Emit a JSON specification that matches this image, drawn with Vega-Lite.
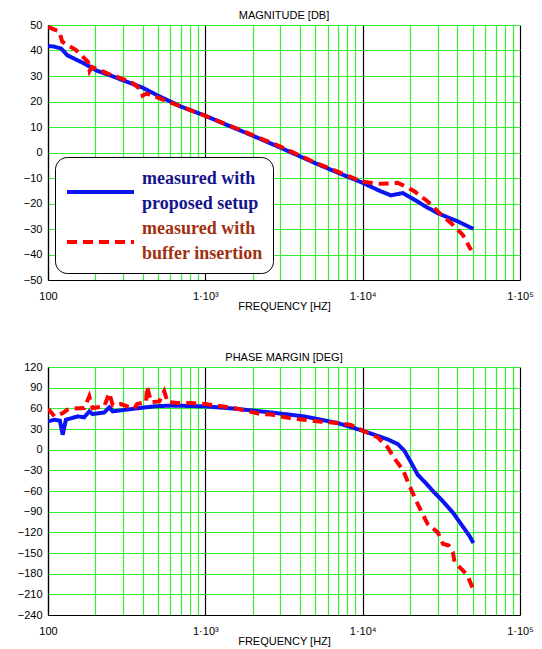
{
  "$schema": "https://vega.github.io/schema/vega-lite/v6.json",
  "padding": {"left": 17, "top": 10, "right": 5, "bottom": 5},
  "background": "white",
  "datasets": {
    "mag": [
      {"f": 100, "v": 41.8, "s": "proposed"},
      {"f": 110, "v": 41.5, "s": "proposed"},
      {"f": 121, "v": 40.8, "s": "proposed"},
      {"f": 133, "v": 38.1, "s": "proposed"},
      {"f": 150, "v": 36.5, "s": "proposed"},
      {"f": 170, "v": 34.9, "s": "proposed"},
      {"f": 202, "v": 32.2, "s": "proposed"},
      {"f": 250, "v": 30.2, "s": "proposed"},
      {"f": 300, "v": 28.3, "s": "proposed"},
      {"f": 400, "v": 25.4, "s": "proposed"},
      {"f": 500, "v": 22.3, "s": "proposed"},
      {"f": 700, "v": 18.0, "s": "proposed"},
      {"f": 1000, "v": 14.4, "s": "proposed"},
      {"f": 1500, "v": 9.8, "s": "proposed"},
      {"f": 2000, "v": 6.6, "s": "proposed"},
      {"f": 3000, "v": 1.9, "s": "proposed"},
      {"f": 5000, "v": -4.2, "s": "proposed"},
      {"f": 7000, "v": -8.0, "s": "proposed"},
      {"f": 10000, "v": -11.9, "s": "proposed"},
      {"f": 13000, "v": -15.2, "s": "proposed"},
      {"f": 15100, "v": -16.8, "s": "proposed"},
      {"f": 18000, "v": -15.9, "s": "proposed"},
      {"f": 21300, "v": -18.5, "s": "proposed"},
      {"f": 25000, "v": -21.1, "s": "proposed"},
      {"f": 30000, "v": -23.8, "s": "proposed"},
      {"f": 35000, "v": -25.5, "s": "proposed"},
      {"f": 40200, "v": -27.0, "s": "proposed"},
      {"f": 50600, "v": -30.0, "s": "proposed"},
      {"f": 100, "v": 49.3, "s": "buffer"},
      {"f": 112, "v": 48.0, "s": "buffer"},
      {"f": 118, "v": 47.5, "s": "buffer"},
      {"f": 123, "v": 43.5, "s": "buffer"},
      {"f": 130, "v": 42.5, "s": "buffer"},
      {"f": 150, "v": 40.3, "s": "buffer"},
      {"f": 170, "v": 37.0, "s": "buffer"},
      {"f": 180, "v": 35.5, "s": "buffer"},
      {"f": 184, "v": 32.0, "s": "buffer"},
      {"f": 190, "v": 33.5, "s": "buffer"},
      {"f": 200, "v": 33.0, "s": "buffer"},
      {"f": 250, "v": 30.5, "s": "buffer"},
      {"f": 300, "v": 28.8, "s": "buffer"},
      {"f": 350, "v": 27.0, "s": "buffer"},
      {"f": 390, "v": 24.5, "s": "buffer"},
      {"f": 400, "v": 22.3, "s": "buffer"},
      {"f": 420, "v": 23.0, "s": "buffer"},
      {"f": 452, "v": 22.7, "s": "buffer"},
      {"f": 500, "v": 21.5, "s": "buffer"},
      {"f": 700, "v": 18.0, "s": "buffer"},
      {"f": 1000, "v": 14.4, "s": "buffer"},
      {"f": 1528, "v": 9.8, "s": "buffer"},
      {"f": 2000, "v": 6.8, "s": "buffer"},
      {"f": 3000, "v": 2.3, "s": "buffer"},
      {"f": 4933, "v": -3.8, "s": "buffer"},
      {"f": 7000, "v": -7.6, "s": "buffer"},
      {"f": 10000, "v": -11.5, "s": "buffer"},
      {"f": 13100, "v": -12.3, "s": "buffer"},
      {"f": 16700, "v": -11.9, "s": "buffer"},
      {"f": 19000, "v": -13.5, "s": "buffer"},
      {"f": 21300, "v": -15.2, "s": "buffer"},
      {"f": 25900, "v": -19.2, "s": "buffer"},
      {"f": 31600, "v": -24.4, "s": "buffer"},
      {"f": 36500, "v": -27.7, "s": "buffer"},
      {"f": 43300, "v": -32.3, "s": "buffer"},
      {"f": 48900, "v": -38.3, "s": "buffer"}
    ],
    "phase": [
      {"f": 100, "v": 41, "s": "proposed"},
      {"f": 110, "v": 43.5, "s": "proposed"},
      {"f": 119, "v": 42, "s": "proposed"},
      {"f": 124, "v": 21.7, "s": "proposed"},
      {"f": 130, "v": 43.5, "s": "proposed"},
      {"f": 155, "v": 48.3, "s": "proposed"},
      {"f": 170, "v": 47, "s": "proposed"},
      {"f": 183, "v": 55.6, "s": "proposed"},
      {"f": 192, "v": 51.7, "s": "proposed"},
      {"f": 228, "v": 54, "s": "proposed"},
      {"f": 245, "v": 61.4, "s": "proposed"},
      {"f": 258, "v": 55.6, "s": "proposed"},
      {"f": 353, "v": 59.5, "s": "proposed"},
      {"f": 474, "v": 62.9, "s": "proposed"},
      {"f": 606, "v": 64, "s": "proposed"},
      {"f": 1000, "v": 62.9, "s": "proposed"},
      {"f": 1528, "v": 59.5, "s": "proposed"},
      {"f": 2618, "v": 54, "s": "proposed"},
      {"f": 4254, "v": 48.3, "s": "proposed"},
      {"f": 6950, "v": 38.6, "s": "proposed"},
      {"f": 10000, "v": 27.5, "s": "proposed"},
      {"f": 14400, "v": 15, "s": "proposed"},
      {"f": 16700, "v": 8.2, "s": "proposed"},
      {"f": 18400, "v": -1.5, "s": "proposed"},
      {"f": 20300, "v": -18.5, "s": "proposed"},
      {"f": 22400, "v": -36.5, "s": "proposed"},
      {"f": 24700, "v": -46.5, "s": "proposed"},
      {"f": 28600, "v": -62.5, "s": "proposed"},
      {"f": 31500, "v": -72, "s": "proposed"},
      {"f": 37400, "v": -91.2, "s": "proposed"},
      {"f": 42200, "v": -108, "s": "proposed"},
      {"f": 47600, "v": -124.8, "s": "proposed"},
      {"f": 50600, "v": -135.4, "s": "proposed"},
      {"f": 100, "v": 59.5, "s": "buffer"},
      {"f": 110, "v": 48.3, "s": "buffer"},
      {"f": 124, "v": 53, "s": "buffer"},
      {"f": 133, "v": 58, "s": "buffer"},
      {"f": 143, "v": 59.5, "s": "buffer"},
      {"f": 170, "v": 60.4, "s": "buffer"},
      {"f": 183, "v": 77.4, "s": "buffer"},
      {"f": 192, "v": 60.4, "s": "buffer"},
      {"f": 228, "v": 62.9, "s": "buffer"},
      {"f": 245, "v": 82.2, "s": "buffer"},
      {"f": 258, "v": 64.3, "s": "buffer"},
      {"f": 291, "v": 66.2, "s": "buffer"},
      {"f": 353, "v": 59.5, "s": "buffer"},
      {"f": 368, "v": 66.2, "s": "buffer"},
      {"f": 420, "v": 69.1, "s": "buffer"},
      {"f": 426, "v": 92, "s": "buffer"},
      {"f": 452, "v": 69.1, "s": "buffer"},
      {"f": 510, "v": 70, "s": "buffer"},
      {"f": 548, "v": 84.7, "s": "buffer"},
      {"f": 576, "v": 69, "s": "buffer"},
      {"f": 668, "v": 67.7, "s": "buffer"},
      {"f": 810, "v": 67.7, "s": "buffer"},
      {"f": 1000, "v": 66.2, "s": "buffer"},
      {"f": 1528, "v": 60.4, "s": "buffer"},
      {"f": 2248, "v": 51.7, "s": "buffer"},
      {"f": 2618, "v": 51, "s": "buffer"},
      {"f": 3508, "v": 45.5, "s": "buffer"},
      {"f": 4254, "v": 43.5, "s": "buffer"},
      {"f": 5445, "v": 40.6, "s": "buffer"},
      {"f": 6950, "v": 38.7, "s": "buffer"},
      {"f": 8430, "v": 35.8, "s": "buffer"},
      {"f": 10000, "v": 27.6, "s": "buffer"},
      {"f": 12470, "v": 17.9, "s": "buffer"},
      {"f": 14400, "v": 3.4, "s": "buffer"},
      {"f": 16300, "v": -16, "s": "buffer"},
      {"f": 18000, "v": -29, "s": "buffer"},
      {"f": 19800, "v": -52, "s": "buffer"},
      {"f": 22400, "v": -79.2, "s": "buffer"},
      {"f": 25900, "v": -108, "s": "buffer"},
      {"f": 30000, "v": -120, "s": "buffer"},
      {"f": 32400, "v": -136.8, "s": "buffer"},
      {"f": 35200, "v": -139.2, "s": "buffer"},
      {"f": 37400, "v": -148.8, "s": "buffer"},
      {"f": 38400, "v": -163.2, "s": "buffer"},
      {"f": 42200, "v": -172.8, "s": "buffer"},
      {"f": 46400, "v": -182.4, "s": "buffer"},
      {"f": 50600, "v": -204, "s": "buffer"}
    ]
  },
  "config": {
    "view": {"stroke": null},
    "font": "Liberation Sans",
    "axis": {
      "labelFont": "Liberation Sans",
      "labelFontSize": 11,
      "labelColor": "black",
      "labelFlush": false,
      "titleFont": "Liberation Sans",
      "titleFontSize": 11,
      "titleFontWeight": "normal",
      "titleColor": "black",
      "domainColor": "black",
      "domainWidth": 1.2,
      "ticks": false,
      "gridOpacity": 1,
      "gridWidth": 1.2
    },
    "title": {"font": "Liberation Sans", "fontSize": 11, "fontWeight": "normal", "color": "black"},
    "style": {"guide-label": {"lineHeight": 25}}
  },
  "spacing": 41,
  "resolve": {"legend": {"color": "independent", "strokeDash": "independent"}},
  "vconcat": [
    {
      "width": 472,
      "height": 255,
      "title": {"text": "MAGNITUDE [DB]", "offset": -2},
      "data": {"name": "mag"},
      "mark": {"type": "line", "strokeWidth": 4, "clip": true},
      "encoding": {
        "x": {
          "field": "f", "type": "quantitative",
          "scale": {"type": "log", "domain": [100, 100000], "nice": false},
          "axis": {
            "title": "FREQUENCY [HZ]",
            "titlePadding": -1,
            "values": [100,200,300,400,500,600,700,800,900,1000,2000,3000,4000,5000,6000,7000,8000,9000,10000,20000,30000,40000,50000,60000,70000,80000,90000,100000],
            "labelExpr": "datum.value == 100 ? '100' : datum.value == 1000 ? '1·10³' : datum.value == 10000 ? '1·10⁴' : datum.value == 100000 ? '1·10⁵' : ''",
            "labelPadding": 10,
            "gridColor": {"condition": {"test": "datum.value == 1000 || datum.value == 10000 || datum.value == 100000 || datum.value == 100", "value": "black"}, "value": "#33ee33"}
          }
        },
        "y": {
          "field": "v", "type": "quantitative",
          "scale": {"domain": [-50, 50], "nice": false},
          "axis": {"title": null, "values": [-50,-40,-30,-20,-10,0,10,20,30,40,50], "gridColor": "#33ee33", "labelPadding": 6}
        },
        "color": {
          "field": "s", "type": "nominal",
          "scale": {"domain": ["proposed", "buffer"], "range": ["#0a14f0", "#ff0000"]},
          "legend": {
            "title": null,
            "orient": "bottom-left",
            "offset": 7,
            "fillColor": "white",
            "strokeColor": "black",
            "cornerRadius": 12,
            "padding": 10,
            "rowPadding": 4,
            "symbolType": "M-1,1.3H5.7",
            "symbolSize": 400,
            "symbolStrokeWidth": 4,
            "symbolDash": {"expr": "datum.value == 'buffer' ? [4, 4] : [1, 0]"},
            "labelFont": "Liberation Serif",
            "labelFontSize": 18,
            "labelFontWeight": "bold",
            "labelOffset": 53,
            "labelLimit": 200,
            "labelColor": {"expr": "datum.value == 'buffer' ? '#a0300f' : '#14148c'"},
            "labelExpr": "datum.value == 'buffer' ? ['measured with', 'buffer insertion'] : ['measured with', 'proposed setup']"
          }
        },
        "strokeDash": {
          "field": "s", "type": "nominal",
          "scale": {"domain": ["proposed", "buffer"], "range": [[1, 0], [10, 6]]},
          "legend": null
        },
        "order": {"field": "f", "type": "quantitative"}
      }
    },
    {
      "width": 472,
      "height": 248,
      "title": {"text": "PHASE MARGIN [DEG]", "offset": -2},
      "data": {"name": "phase"},
      "mark": {"type": "line", "strokeWidth": 4, "clip": true},
      "encoding": {
        "x": {
          "field": "f", "type": "quantitative",
          "scale": {"type": "log", "domain": [100, 100000], "nice": false},
          "axis": {
            "title": "FREQUENCY  [HZ]",
            "titlePadding": -1,
            "values": [100,200,300,400,500,600,700,800,900,1000,2000,3000,4000,5000,6000,7000,8000,9000,10000,20000,30000,40000,50000,60000,70000,80000,90000,100000],
            "labelExpr": "datum.value == 100 ? '100' : datum.value == 1000 ? '1·10³' : datum.value == 10000 ? '1·10⁴' : datum.value == 100000 ? '1·10⁵' : ''",
            "labelPadding": 10,
            "gridColor": {"condition": {"test": "datum.value == 1000 || datum.value == 10000 || datum.value == 100000 || datum.value == 100", "value": "black"}, "value": "#33ee33"}
          }
        },
        "y": {
          "field": "v", "type": "quantitative",
          "scale": {"domain": [-240, 120], "nice": false},
          "axis": {"title": null, "values": [-240,-210,-180,-150,-120,-90,-60,-30,0,30,60,90,120], "gridColor": "#33ee33", "labelPadding": 6}
        },
        "color": {
          "field": "s", "type": "nominal",
          "scale": {"domain": ["proposed", "buffer"], "range": ["#0a14f0", "#ff0000"]},
          "legend": null
        },
        "strokeDash": {
          "field": "s", "type": "nominal",
          "scale": {"domain": ["proposed", "buffer"], "range": [[1, 0], [10, 6]]},
          "legend": null
        },
        "order": {"field": "f", "type": "quantitative"}
      }
    }
  ]
}
